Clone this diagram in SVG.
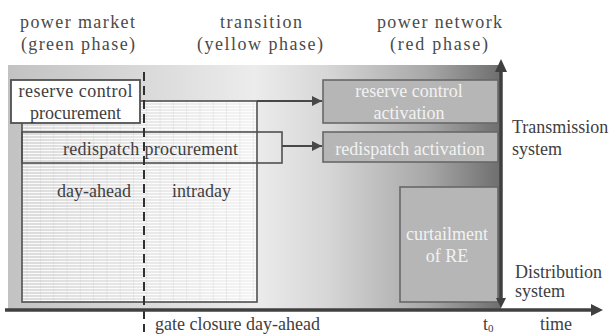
<svg xmlns="http://www.w3.org/2000/svg" width="611" height="335" viewBox="0 0 611 335" font-family="'Liberation Serif', 'Times New Roman', 'DejaVu Serif', serif">
<style>
text{font-family:'Liberation Serif','Times New Roman','DejaVu Serif',serif;font-size:18px;fill:#404040}
.hdr{fill:#4a4a4a}
.lt{fill:#f2f2f2}
.wbox{fill:#fff;stroke:#505050;stroke-width:1.8}
.gbox{fill:#b6b6b6;stroke:#686868;stroke-width:1.6}
.obox{fill:none;stroke:#505050;stroke-width:1.6}
.conn{stroke:#484848;stroke-width:2;fill:none}
.axis{stroke:#404040;stroke-width:3.5;fill:none}
</style>
<defs>
<linearGradient id="bg" x1="0" y1="0" x2="1" y2="0">
<stop offset="0" stop-color="#c2c2c2"/>
<stop offset="0.5" stop-color="#ececec"/>
<stop offset="0.65" stop-color="#d6d6d6"/>
<stop offset="0.85" stop-color="#a8a8a8"/>
<stop offset="1" stop-color="#6e6e6e"/>
</linearGradient>
<pattern id="grid" width="13.3" height="3" patternUnits="userSpaceOnUse">
<rect width="13.3" height="3" fill="#fff" fill-opacity="0.4"/>
<rect y="0" width="13.3" height="1" fill="#fff" fill-opacity="0.85"/>
<rect x="0" width="0.6" height="3" fill="#c0c0c0" fill-opacity="0.4"/>
</pattern>
<marker id="ah" markerWidth="10" markerHeight="10" refX="10" refY="5" orient="auto" markerUnits="userSpaceOnUse">
<path d="M0,0 L10,5 L0,10 z" fill="#484848"/>
</marker>
</defs>

<rect x="8" y="65" width="493" height="245" fill="url(#bg)"/>

<g id="headers">
<text class="hdr" x="20" y="28" textLength="115" lengthAdjust="spacing">power market</text>
<text class="hdr" x="21" y="50" textLength="114" lengthAdjust="spacing">(green phase)</text>
<text class="hdr" x="220" y="28" textLength="82" lengthAdjust="spacing">transition</text>
<text class="hdr" x="197" y="50" textLength="126" lengthAdjust="spacing">(yellow phase)</text>
<text class="hdr" x="377" y="28" textLength="125" lengthAdjust="spacing">power network</text>
<text class="hdr" x="390" y="50" textLength="98" lengthAdjust="spacing">(red phase)</text>
</g>

<g id="market">
<rect x="22" y="101" width="235" height="201" fill="url(#grid)" stroke="#505050" stroke-width="1.6"/>
<text x="57" y="197">day-ahead</text>
<text x="172" y="197">intraday</text>
</g>

<g id="reserve-procurement">
<rect class="wbox" x="11" y="80" width="129" height="43"/>
<text x="75.5" y="97" text-anchor="middle" textLength="114" lengthAdjust="spacing">reserve control</text>
<text x="75.5" y="119" text-anchor="middle">procurement</text>
</g>

<g id="redispatch-procurement">
<rect class="obox" x="22" y="132" width="260" height="31"/>
<text x="63" y="155" textLength="175" lengthAdjust="spacing">redispatch procurement</text>
</g>

<g id="reserve-activation">
<rect class="gbox" x="323" y="80" width="175" height="43"/>
<text class="lt" x="409" y="97" text-anchor="middle">reserve control</text>
<text class="lt" x="409" y="119" text-anchor="middle">activation</text>
</g>

<g id="redispatch-activation">
<rect class="gbox" x="323" y="132" width="175" height="30"/>
<text class="lt" x="410" y="155" text-anchor="middle">redispatch activation</text>
</g>

<g id="curtailment">
<rect class="gbox" x="400" y="187" width="98" height="115"/>
<text class="lt" x="447" y="240" text-anchor="middle">curtailment</text>
<text class="lt" x="447" y="262" text-anchor="middle">of RE</text>
</g>

<g id="connectors">
<line class="conn" x1="257" y1="101" x2="322" y2="101" marker-end="url(#ah)"/>
<line class="conn" x1="282" y1="146" x2="322" y2="146" marker-end="url(#ah)"/>
</g>

<g id="axes">
<line x1="144" y1="72" x2="144" y2="332" stroke="#303030" stroke-width="2" stroke-dasharray="9 5"/>
<line class="axis" x1="5" y1="310" x2="592" y2="310"/>
<path d="M591,304 L603,310 L591,316 z" fill="#404040"/>
<line class="axis" x1="501" y1="70" x2="501" y2="300"/>
<path d="M495,72 L501,59 L507,72 z" fill="#404040"/>
<path d="M496,298 L501,308 L506,298 z" fill="#404040"/>
</g>

<g id="labels">
<text x="512" y="133">Transmission</text>
<text x="512" y="155">system</text>
<text x="515" y="278">Distribution</text>
<text x="515" y="297">system</text>
<text x="155" y="330">gate closure day-ahead</text>
<text x="483" y="330">t<tspan font-size="11" dy="2">0</tspan></text>
<text x="540" y="330">time</text>
</g>
</svg>
